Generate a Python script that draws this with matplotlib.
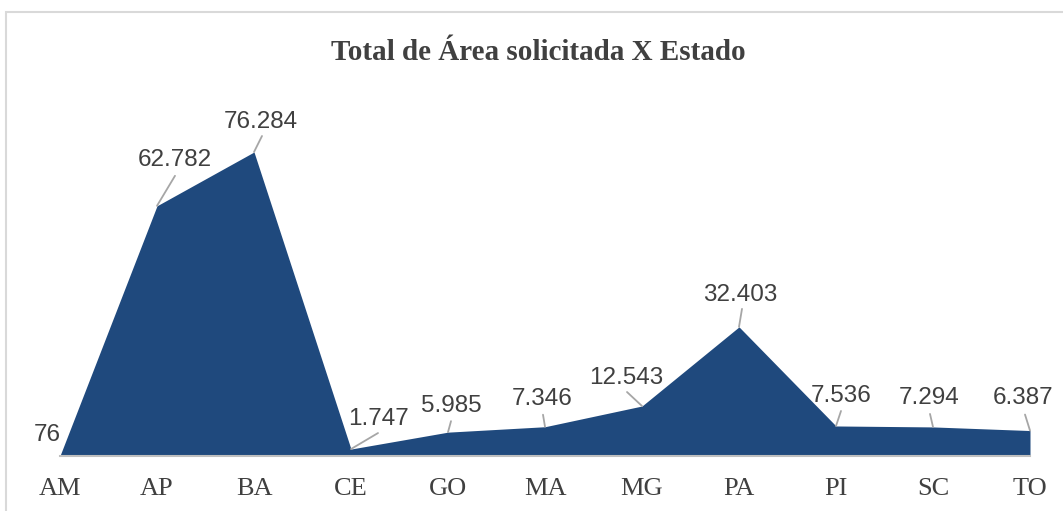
import matplotlib
matplotlib.use("Agg")
import matplotlib.pyplot as plt
from matplotlib.patches import Rectangle

categories = ["AM", "AP", "BA", "CE", "GO", "MA", "MG", "PA", "PI", "SC", "TO"]
values = [76, 62782, 76284, 1747, 5985, 7346, 12543, 32403, 7536, 7294, 6387]
labels = ["76", "62.782", "76.284", "1.747", "5.985", "7.346", "12.543", "32.403", "7.536", "7.294", "6.387"]

# label centre offsets (pixels) and leader-line end offsets (pixels, None = no leader)
label_off = [(-13, 23), (17.5, 49), (7, 33), (27, 33), (3, 28.5), (-3, 30),
             (-15.5, 31), (1, 35), (5, 33), (-3.5, 31.5), (-7, 35.5)]
leader_off = [None, (18, 30), (8, 16), (27, 16), (3, 11), (-2, 12),
              (-15, 14), (3, 18), (5, 15), (-3, 13), (-5, 16)]

W, H = 1063, 511
fig = plt.figure(figsize=(W / 100, H / 100), dpi=100)
fig.patch.set_facecolor("white")

# chart border
fig.patches.append(Rectangle((6 / W, -0.05), 1.2, 1 - 12 / H + 0.05, transform=fig.transFigure,
                             fill=False, edgecolor="#d9d9d9", linewidth=1.5))

ymax = 80000
px_per_unit = 304 / 76284
ax_h = ymax * px_per_unit
ax = fig.add_axes([60 / W, 55 / H, (1030 - 60) / W, ax_h / H])
x = list(range(len(categories)))
ax.fill_between(x, values, 0, color="#1F497D", linewidth=0)
ax.set_xlim(0, len(categories) - 1)
ax.set_ylim(0, ymax)
ax.set_facecolor("none")
for s in ["top", "right", "left"]:
    ax.spines[s].set_visible(False)
ax.spines["bottom"].set_color("#bfbfbf")
ax.spines["bottom"].set_linewidth(1.5)
ax.set_yticks([])
ax.set_xticks(x)
ax.set_xticklabels(categories, family="Liberation Serif", fontsize=19, color="#404040")
ax.tick_params(axis="x", length=0, pad=15.5)

for i, (v, lab) in enumerate(zip(values, labels)):
    dx, dy = label_off[i]
    ax.annotate(lab, (i, v), xytext=(dx, dy - 8.75), textcoords="offset pixels",
                ha="center", va="baseline", family="Liberation Sans", fontsize=17.5,
                color="#404040", annotation_clip=False)
    if leader_off[i] is not None:
        lx, ly = leader_off[i]
        ax.annotate("", (i, v), xytext=(lx, ly), textcoords="offset pixels",
                    arrowprops=dict(arrowstyle="-", color="#a6a6a6", lw=1.3,
                                    shrinkA=0, shrinkB=0),
                    annotation_clip=False)

fig.text(538.5 / W, 1 - 60 / H, "Total de Área solicitada X Estado", ha="center", va="baseline",
         family="Liberation Serif", fontweight="bold", fontsize=21, color="#404040")

fig.savefig("out.png", dpi=100)
